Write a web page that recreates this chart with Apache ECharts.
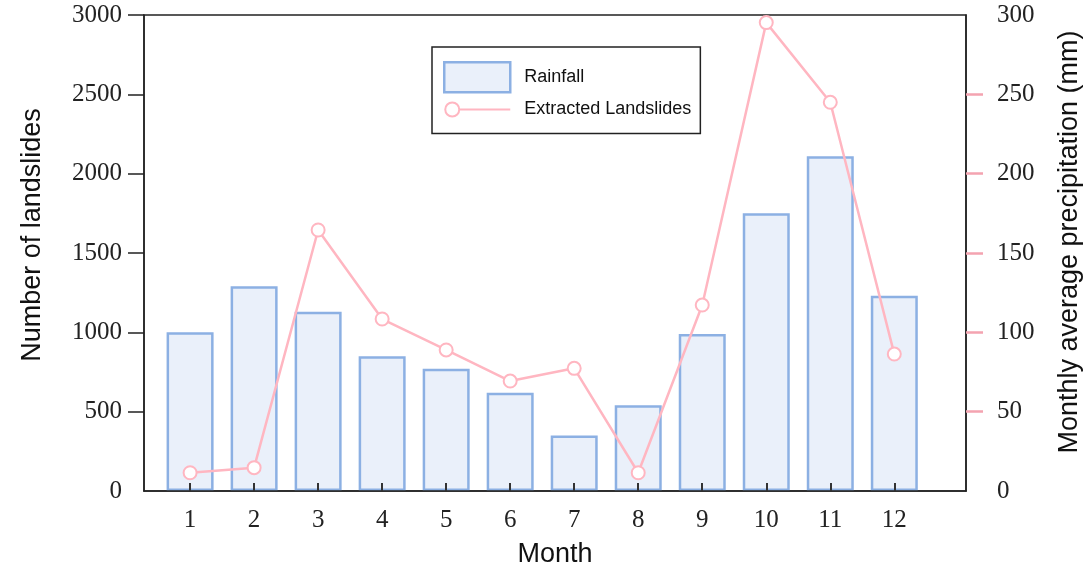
<!DOCTYPE html>
<html>
<head>
<meta charset="utf-8">
<script src="https://cdn.jsdelivr.net/npm/echarts@6/dist/echarts.min.js"></script>
<style>
html,body{margin:0;padding:0;background:#fff;}
#chart{width:1088px;height:566px;}
</style>
</head>
<body>
<div id="chart"></div>
<script>
const months = [1, 2, 3, 4, 5, 6, 7, 8, 9, 10, 11, 12];
const rainfall = [100, 129, 113, 85, 77, 62, 35, 54, 99, 175, 211, 123];
const landslides = [115, 147, 1645, 1084, 889, 693, 773, 115, 1172, 2952, 2450, 863];
const leftTicks = [500, 1000, 1500, 2000, 2500, 3000];
const rightTicks = [50, 100, 150, 200, 250];

const serif = "'Liberation Serif', 'Times New Roman', serif";
const sans = "'Liberation Sans', Arial, sans-serif";
const pink = '#ffb6c1';
const barFill = '#eaf0fa';
const barBorder = '#8cb0e3';
const plain = v => String(v);

const chart = echarts.init(document.getElementById('chart'), null, {renderer: 'canvas'});
chart.setOption({
  animation: false,
  backgroundColor: '#fff',
  grid: {left: 144, right: 122, top: 15, bottom: 75, outerBoundsMode: 'none', containLabel: false,
         show: true, borderColor: '#222', borderWidth: 1.5, backgroundColor: 'transparent'},
  legend: {
    orient: 'vertical',
    left: 432, top: 47,
    padding: [14, 9, 8, 11],
    itemGap: 0,
    itemWidth: 66, itemHeight: 30,
    borderColor: '#222', borderWidth: 1.5,
    textStyle: {fontFamily: sans, fontSize: 18, color: '#111', padding: [0, 0, 0, 9]},
    data: [
      {name: 'Rainfall', icon: 'rect', itemStyle: {color: barFill, borderColor: barBorder, borderWidth: 2.5}},
      {name: 'Extracted Landslides', icon: 'path://M1,15A7,7,0,1,1,15,15A7,7,0,1,1,1,15ZM15,15L66,15M0,0M66,30',
       itemStyle: {color: '#fff', borderColor: pink, borderWidth: 2}}
    ]
  },
  xAxis: {
    type: 'value', min: 0.28, max: 13.12, z: 5,
    name: 'Month', nameLocation: 'middle', nameGap: 50,
    nameTextStyle: {fontFamily: sans, fontSize: 27, color: '#111'},
    axisLine: {show: true, lineStyle: {color: '#222', width: 1.5}},
    axisTick: {show: true, inside: true, length: 8, customValues: months, lineStyle: {color: '#333', width: 2}},
    axisLabel: {customValues: months, fontFamily: serif, fontSize: 25, color: '#222', margin: 17},
    splitLine: {show: false}
  },
  yAxis: [
    {
      type: 'value', min: 0, max: 3000, interval: 500, position: 'left',
      name: 'Number of landslides', nameLocation: 'middle', nameGap: 98,
      nameTextStyle: {fontFamily: sans, fontSize: 27, color: '#111', padding: [0, 0, 0, 36]},
      axisLine: {show: true, lineStyle: {color: '#222', width: 1.5}},
      axisTick: {show: true, length: 16, customValues: leftTicks, lineStyle: {color: '#222', width: 1.5}},
      axisLabel: {formatter: plain, fontFamily: serif, fontSize: 25, color: '#222', margin: 22},
      splitLine: {show: false}
    },
    {
      type: 'value', min: 0, max: 300, interval: 50, position: 'right',
      name: 'Monthly average precipitation (mm)', nameLocation: 'middle', nameGap: 90,
      nameTextStyle: {fontFamily: sans, fontSize: 27, color: '#111', padding: [0, 0, 0, 22]},
      axisLine: {show: true, lineStyle: {color: '#222', width: 1.5}},
      axisTick: {show: true, length: 17, customValues: rightTicks, lineStyle: {color: '#f4a3b0', width: 2.5}},
      axisLabel: {formatter: plain, fontFamily: serif, fontSize: 25, color: '#222', margin: 31},
      splitLine: {show: false}
    }
  ],
  series: [
    {
      name: 'Rainfall', type: 'bar', yAxisIndex: 1, barWidth: 47,
      itemStyle: {color: barFill, borderColor: barBorder, borderWidth: 2.5},
      data: months.map((m, i) => [m, rainfall[i]])
    },
    {
      name: 'Extracted Landslides', type: 'line', yAxisIndex: 0, z: 6,
      symbol: 'circle', symbolSize: 13,
      lineStyle: {color: pink, width: 2.5},
      itemStyle: {color: '#fff', borderColor: pink, borderWidth: 2},
      data: months.map((m, i) => [m, landslides[i]])
    }
  ]
});
</script>
</body>
</html>
